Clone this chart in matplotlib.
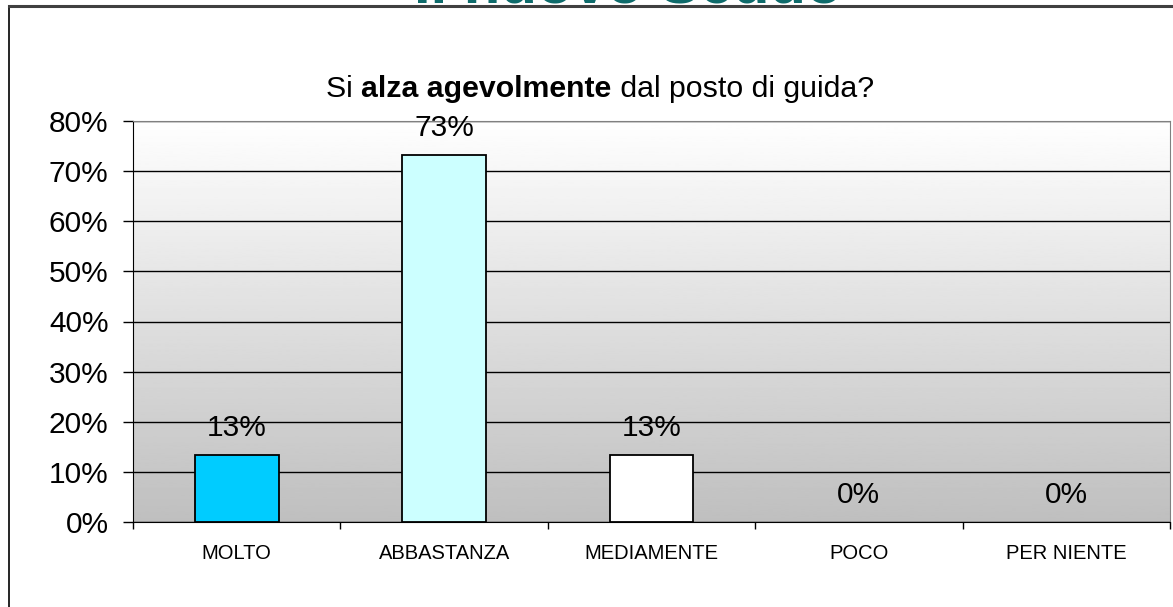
import numpy as np
import matplotlib.pyplot as plt
from matplotlib.lines import Line2D

plt.rcParams['font.family'] = ['Liberation Sans', 'DejaVu Sans']

# dati
categorie = ['MOLTO', 'ABBASTANZA', 'MEDIAMENTE', 'POCO', 'PER NIENTE']
valori = [0.133, 0.733, 0.133, 0.0, 0.0]
etichette = ['13%', '73%', '13%', '0%', '0%']
colori = ['#00CCFF', '#CCFFFF', '#FFFFFF', '#FFFFFF', '#FFFFFF']

fig = plt.figure(figsize=(11.73, 6.07), dpi=100)
W, H = 1173, 607

# cornice esterna della slide
fig.add_artist(Line2D([9 / W, 1], [1 - 5.5 / H, 1 - 5.5 / H], color='#404040', lw=2.2,
                      transform=fig.transFigure, zorder=5))
fig.add_artist(Line2D([9 / W, 9 / W], [0, 1 - 5.5 / H], color='black', lw=1.2,
                      transform=fig.transFigure))
# titolo della slide, tagliato dal bordo superiore
fig.text(628 / W, 1 - 2.5 / H, 'Il nuovo Scudo', color='#0E6B6B', fontsize=43,
         fontweight='bold', ha='center', va='baseline', zorder=1)

ax = fig.add_axes([133 / W, 1 - 522 / H, (1170 - 133) / W, (522 - 121) / H])

# sfondo sfumato
grad = np.linspace(0, 1, 256).reshape(-1, 1)
ax.imshow(grad, extent=[0, 1, 0, 1], transform=ax.transAxes, cmap='gray',
          vmin=-3.0, vmax=1.01, aspect='auto', origin='lower', zorder=0)

x = np.arange(len(categorie))
bordi = [1.3 if v > 0 else 0 for v in valori]
ax.bar(x, valori, width=0.405, color=colori, edgecolor='black', linewidth=bordi, zorder=3)

for xi, v, t in zip(x, valori, etichette):
    ax.annotate(t, (xi, v), xytext=(0, 19.5), textcoords='offset points',
                ha='center', va='center', fontsize=21.5)

ax.set_xlim(-0.5, 4.5)
ax.set_ylim(0, 0.8)
ax.set_yticks(np.arange(0, 0.81, 0.1))
ax.set_yticklabels(['{:.0f}%'.format(v * 100) for v in np.arange(0, 0.81, 0.1)])
ax.yaxis.grid(True, color='black', lw=1)
ax.set_axisbelow(True)
ax.tick_params(axis='y', length=7.5, width=1, pad=10, labelsize=21.5)

ax.set_xticks(x)
ax.set_xticklabels(categorie)
ax.set_xticks(np.arange(-0.5, 5, 1), minor=True)
ax.tick_params(axis='x', which='major', length=0, pad=16, labelsize=14.5)
ax.tick_params(axis='x', which='minor', length=5, width=1)

ax.spines['left'].set_color('black')
ax.spines['bottom'].set_color('black')
ax.spines['top'].set_color('#808080')
ax.spines['right'].set_color('#808080')

# titolo del grafico con parte in grassetto
fig.canvas.draw()
r = fig.canvas.get_renderer()
parti = [('Si ', 'normal'), ('alza agevolmente', 'bold'), (' dal posto di guida?', 'normal')]
larghezze = []
oggetti = []
for s, w in parti:
    t = fig.text(0, 1 - 97 / H, s, fontsize=21.8, fontweight=w, va='baseline')
    oggetti.append(t)
    larghezze.append(t.get_window_extent(r).width)
x0 = 600 - sum(larghezze) / 2
for t, lw_ in zip(oggetti, larghezze):
    t.set_x(x0 / W)
    x0 += lw_

fig.savefig('out.png', dpi=100)
